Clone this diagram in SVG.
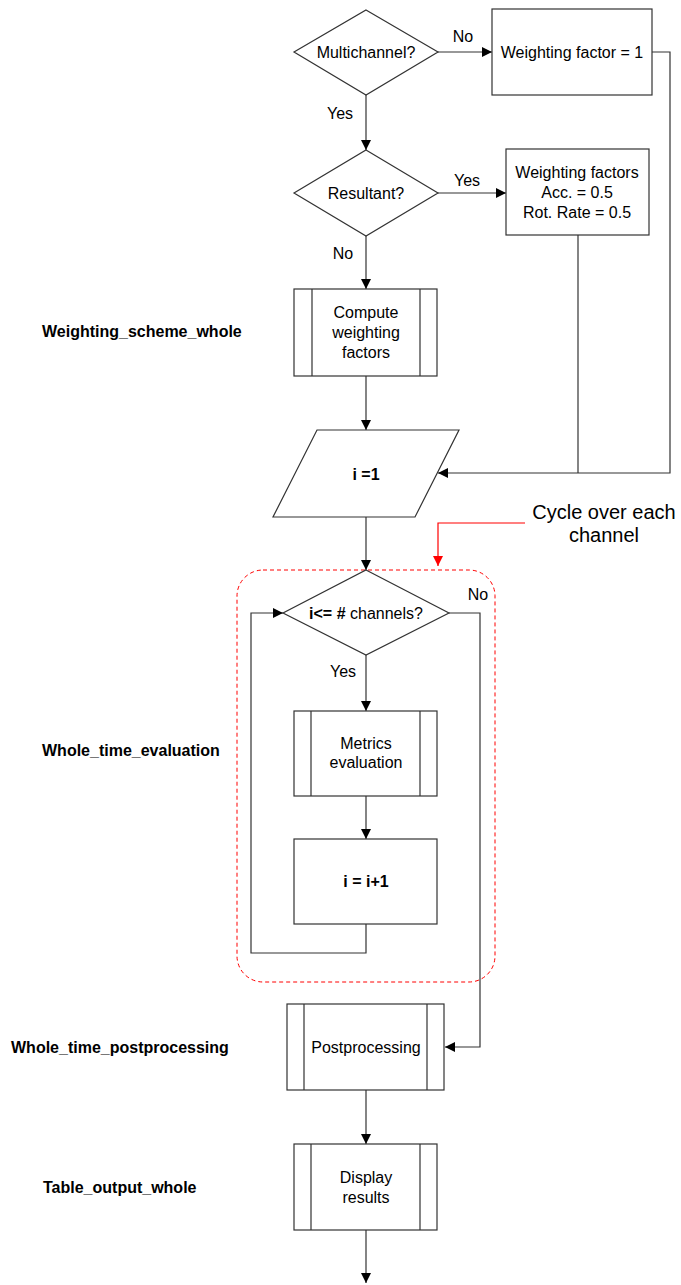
<svg xmlns="http://www.w3.org/2000/svg" width="681" height="1285" viewBox="0 0 681 1285">
<defs>
<marker id="arr" viewBox="0 0 10 10" refX="10" refY="5" markerWidth="10" markerHeight="10" markerUnits="userSpaceOnUse" orient="auto"><path d="M0,0 L10,5 L0,10 z" fill="#000"/></marker>
<marker id="arrR" viewBox="0 0 10 10" refX="10" refY="5" markerWidth="10" markerHeight="10" markerUnits="userSpaceOnUse" orient="auto"><path d="M0,0 L10,5 L0,10 z" fill="#ff0000"/></marker>
<style>
.s{fill:#fff;stroke:#333;stroke-width:1.2}
.l{fill:none;stroke:#333;stroke-width:1.2}
.t{font-family:"Liberation Sans",Arial,sans-serif;font-size:16px;fill:#000;text-anchor:middle}
.b{font-family:"Liberation Sans",Arial,sans-serif;font-size:16px;font-weight:bold;fill:#000}
.r{font-family:"Liberation Sans",Arial,sans-serif;font-size:20px;fill:#000;text-anchor:middle}
</style>
</defs>
<rect width="681" height="1285" fill="#fff"/>

<g id="loop-region">
<rect x="237" y="570" width="258" height="412" rx="26" ry="26" fill="none" stroke="#ff0000" stroke-width="1" stroke-dasharray="4,3"/>
</g>

<g id="connectors">
<path class="l" d="M437,52 H492" marker-end="url(#arr)"/>
<path class="l" d="M366,95 V150" marker-end="url(#arr)"/>
<path class="l" d="M437,193 H506" marker-end="url(#arr)"/>
<path class="l" d="M366,236 V289" marker-end="url(#arr)"/>
<path class="l" d="M366,376 V430" marker-end="url(#arr)"/>
<path class="l" d="M652,52 H670 V473 H438" marker-end="url(#arr)"/>
<path class="l" d="M578,235 V473"/>
<path class="l" d="M366,517 V570" marker-end="url(#arr)"/>
<path class="l" d="M366,655 V711" marker-end="url(#arr)"/>
<path class="l" d="M366,796 V839" marker-end="url(#arr)"/>
<path class="l" d="M366,924 V953 H251 V613 H283" marker-end="url(#arr)"/>
<path class="l" d="M449,613 H480 V1047 H445" marker-end="url(#arr)"/>
<path class="l" d="M366,1090 V1144" marker-end="url(#arr)"/>
<path class="l" d="M366,1230 V1283" marker-end="url(#arr)"/>
<path d="M525,523 H438 V566" fill="none" stroke="#ff0000" stroke-width="1.2" marker-end="url(#arrR)"/>
<text class="t" x="463" y="42">No</text>
<text class="t" x="340" y="119">Yes</text>
<text class="t" x="467" y="186">Yes</text>
<text class="t" x="343" y="259">No</text>
<text class="t" x="478" y="600">No</text>
<text class="t" x="343" y="677">Yes</text>
</g>

<g id="multichannel">
<polygon class="s" points="366,10 438,52 366,95 294,52"/>
<text class="t" x="366" y="58">Multichannel?</text>
</g>

<g id="wf1">
<rect class="s" x="492" y="9" width="160" height="86"/>
<text class="t" x="572" y="58">Weighting factor = 1</text>
</g>

<g id="resultant">
<polygon class="s" points="366,150 438,193 366,236 294,193"/>
<text class="t" x="366" y="199">Resultant?</text>
</g>

<g id="wf05">
<rect class="s" x="506" y="149" width="143" height="86"/>
<text class="t" x="577" y="178">Weighting factors</text>
<text class="t" x="577" y="198">Acc. = 0.5</text>
<text class="t" x="577" y="218">Rot. Rate = 0.5</text>
</g>

<g id="compute">
<rect class="s" x="294" y="289" width="143" height="87"/>
<path class="l" d="M312,289 V376 M420,289 V376"/>
<text class="t" x="366" y="318">Compute</text>
<text class="t" x="366" y="338">weighting</text>
<text class="t" x="366" y="358">factors</text>
</g>

<g id="init">
<polygon class="s" points="317,430 459,430 415,517 273,517"/>
<text class="t" x="366" y="480" font-weight="bold">i =1</text>
</g>

<g id="cond">
<polygon class="s" points="366,570 449,613 366,655 283,613"/>
<text class="t" x="366" y="619"><tspan font-weight="bold">i&lt;= #</tspan> channels?</text>
</g>

<g id="metrics">
<rect class="s" x="294" y="711" width="143" height="85"/>
<path class="l" d="M311,711 V796 M420,711 V796"/>
<text class="t" x="366" y="749">Metrics</text>
<text class="t" x="366" y="768">evaluation</text>
</g>

<g id="incr">
<rect class="s" x="294" y="839" width="143" height="85"/>
<text class="t" x="366" y="887" font-weight="bold">i = i+1</text>
</g>

<g id="postproc">
<rect class="s" x="287" y="1004" width="157" height="86"/>
<path class="l" d="M304,1004 V1090 M427,1004 V1090"/>
<text class="t" x="366" y="1053">Postprocessing</text>
</g>

<g id="display">
<rect class="s" x="294" y="1144" width="143" height="86"/>
<path class="l" d="M311,1144 V1230 M420,1144 V1230"/>
<text class="t" x="366" y="1183">Display</text>
<text class="t" x="366" y="1203">results</text>
</g>

<g id="annotation">
<text class="r" x="604" y="519">Cycle over each</text>
<text class="r" x="604" y="542">channel</text>
</g>

<g id="labels">
<text class="b" x="42" y="337">Weighting_scheme_whole</text>
<text class="b" x="42" y="756">Whole_time_evaluation</text>
<text class="b" x="11" y="1053">Whole_time_postprocessing</text>
<text class="b" x="43" y="1193">Table_output_whole</text>
</g>
</svg>
